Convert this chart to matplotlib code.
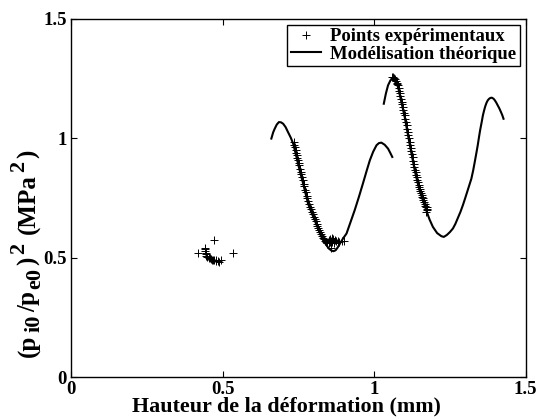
import numpy as np
import matplotlib
matplotlib.use('agg')
import matplotlib.pyplot as plt
from matplotlib.transforms import IdentityTransform

plt.rcParams['font.family'] = 'Liberation Serif'
plt.rcParams['font.weight'] = 'bold'

# experimental points (first group, low height)
exp1_x = [0.420, 0.472, 0.535, 0.442, 0.443, 0.445, 0.447, 0.450, 0.455, 0.458,
          0.462, 0.466, 0.469, 0.473, 0.477, 0.480, 0.484, 0.489, 0.494, 0.443, 0.446]
exp1_y = [0.518, 0.574, 0.520, 0.536, 0.527, 0.515, 0.508, 0.503, 0.500, 0.497,
          0.494, 0.492, 0.491, 0.490, 0.489, 0.488, 0.486, 0.480, 0.491, 0.540, 0.520]

# experimental points along first modelled arch
exp2_x = [0.735, 0.737, 0.739, 0.741, 0.743, 0.745, 0.747, 0.749, 0.751, 0.753,
          0.756, 0.758, 0.760, 0.763, 0.765, 0.768, 0.770, 0.773, 0.775, 0.778,
          0.780, 0.783, 0.786, 0.789, 0.792, 0.795, 0.798, 0.801, 0.804, 0.807,
          0.810, 0.813, 0.816, 0.819, 0.822, 0.825, 0.828, 0.831, 0.834, 0.837,
          0.840, 0.843, 0.846, 0.850, 0.853, 0.857, 0.861,
          0.850, 0.855, 0.860, 0.865, 0.870, 0.875, 0.880, 0.885, 0.893, 0.902,
          0.858, 0.868, 0.862]
exp2_y = [0.985, 0.972, 0.962, 0.953, 0.940, 0.930, 0.918, 0.908, 0.897, 0.887,
          0.872, 0.861, 0.851, 0.836, 0.826, 0.810, 0.800, 0.785, 0.775, 0.760,
          0.750, 0.737, 0.724, 0.713, 0.702, 0.692, 0.682, 0.672, 0.663, 0.653,
          0.643, 0.634, 0.624, 0.615, 0.606, 0.598, 0.590, 0.583, 0.577, 0.571,
          0.566, 0.562, 0.560, 0.562, 0.567, 0.570, 0.572,
          0.575, 0.580, 0.582, 0.578, 0.574, 0.570, 0.568, 0.566, 0.568, 0.568,
          0.540, 0.560, 0.565]

# experimental points along second modelled arch
exp3_x = [1.058, 1.062, 1.066, 1.069, 1.072, 1.075, 1.077, 1.079, 1.081, 1.083,
          1.085, 1.087, 1.089, 1.091, 1.093, 1.095, 1.097, 1.099, 1.101, 1.103,
          1.105, 1.107, 1.109, 1.111, 1.113, 1.115, 1.117, 1.119, 1.121, 1.123,
          1.125, 1.127, 1.129, 1.131, 1.133, 1.135, 1.137, 1.139, 1.141, 1.143,
          1.145, 1.147, 1.149, 1.151, 1.153, 1.155, 1.157, 1.159, 1.161, 1.163,
          1.165, 1.167, 1.169, 1.171, 1.173, 1.175, 1.170, 1.174]
exp3_y = [1.255, 1.258, 1.254, 1.248, 1.240, 1.232, 1.226, 1.222, 1.212, 1.200,
          1.189, 1.177, 1.166, 1.154, 1.143, 1.131, 1.120, 1.108, 1.097, 1.083,
          1.069, 1.055, 1.041, 1.028, 1.014, 1.000, 0.986, 0.973, 0.960, 0.946,
          0.933, 0.920, 0.907, 0.894, 0.881, 0.869, 0.858, 0.848, 0.837, 0.827,
          0.816, 0.806, 0.795, 0.786, 0.779, 0.771, 0.764, 0.756, 0.749, 0.741,
          0.733, 0.726, 0.718, 0.711, 0.705, 0.698, 0.692, 0.712]

# theoretical model, first arch
mod1_x = [0.661, 0.667, 0.672, 0.679, 0.686, 0.693, 0.700, 0.708, 0.716, 0.725,
          0.733, 0.741, 0.749, 0.757, 0.766, 0.774, 0.782, 0.793, 0.804, 0.815,
          0.826, 0.835, 0.843, 0.851, 0.859, 0.866, 0.873, 0.880, 0.890, 0.899,
          0.909, 0.922, 0.936, 0.950, 0.963, 0.975, 0.986, 0.997, 1.008, 1.016,
          1.024, 1.035, 1.046, 1.053, 1.060]
mod1_y = [0.999, 1.025, 1.040, 1.058, 1.068, 1.067, 1.061, 1.047, 1.026, 1.003,
          0.978, 0.937, 0.894, 0.853, 0.810, 0.768, 0.727, 0.690, 0.657, 0.621,
          0.587, 0.567, 0.552, 0.538, 0.530, 0.527, 0.531, 0.543, 0.565, 0.583,
          0.601, 0.648, 0.699, 0.755, 0.810, 0.862, 0.908, 0.944, 0.971, 0.980,
          0.982, 0.973, 0.957, 0.940, 0.922]

# theoretical model, second arch
mod2_x = [1.032, 1.039, 1.046, 1.054, 1.062, 1.070, 1.079, 1.090, 1.101, 1.109,
          1.117, 1.125, 1.134, 1.142, 1.150, 1.161, 1.172, 1.183, 1.194, 1.208,
          1.222, 1.230, 1.240, 1.250, 1.260, 1.268, 1.276, 1.285, 1.293, 1.300,
          1.307, 1.314, 1.321, 1.327, 1.332, 1.337, 1.342, 1.346, 1.350, 1.355,
          1.359, 1.363, 1.367, 1.371, 1.375, 1.379, 1.382, 1.386, 1.389, 1.394,
          1.398, 1.403, 1.408, 1.413, 1.418, 1.423, 1.427]
mod2_y = [1.145, 1.188, 1.222, 1.243, 1.250, 1.238, 1.215, 1.152, 1.089, 1.033,
          0.978, 0.925, 0.866, 0.822, 0.782, 0.740, 0.699, 0.660, 0.629, 0.603,
          0.590, 0.587, 0.595, 0.607, 0.622, 0.641, 0.665, 0.692, 0.720, 0.747,
          0.775, 0.803, 0.831, 0.866, 0.900, 0.935, 0.971, 1.004, 1.035, 1.068,
          1.096, 1.117, 1.135, 1.149, 1.159, 1.165, 1.168, 1.170, 1.170, 1.166,
          1.160, 1.150, 1.138, 1.126, 1.112, 1.097, 1.082]

ticks = [0, 0.5, 1, 1.5]
tick_labels = ['0', '0.5', '1', '1.5']

# y label pieces: text, level (0 normal, -1 subscript, 1 superscript)
ylab_parts = [('(p', 0), ('i0', -1), ('/p', 0), ('e0', -1), (')', 0), ('2', 1),
              ('(MPa', 0), ('2', 1), (')', 0)]

fig = plt.figure(figsize=(5.38, 4.19), dpi=100)
ax = fig.add_axes([0.132, 0.1002, 0.845, 0.8545])

mk = dict(marker='+', linestyle='none', color='black', markersize=6, markeredgewidth=0.7)
pts, = ax.plot(exp1_x, exp1_y, **mk)
ax.plot(exp2_x, exp2_y, **mk)
ax.plot(exp3_x, exp3_y, **mk)
line, = ax.plot(mod1_x, mod1_y, color='black', linewidth=1.5)
ax.plot(mod2_x, mod2_y, color='black', linewidth=1.5)

ax.set_xlim(0, 1.5)
ax.set_ylim(0, 1.5)
ax.set_xticks(ticks)
ax.set_xticklabels(tick_labels)
ax.set_yticks(ticks)
ax.set_yticklabels(tick_labels)
ax.tick_params(direction='in', top=True, right=True, length=4, width=0.8,
               labelsize=13.5)
ax.tick_params(axis='x', pad=3)
ax.tick_params(axis='y', pad=3)
for s in ax.spines.values():
    s.set_linewidth(1.0)

ax.set_xlabel('Hauteur de la déformation (mm)', fontsize=15.8, fontweight='bold')
ax.xaxis.label.set_va('baseline')
ax.xaxis.set_label_coords(0.474, -0.097)

leg = ax.legend([pts, line], ['Points expérimentaux', 'Modélisation théorique'],
                loc='upper right', fontsize=13.5, fancybox=False, framealpha=1,
                edgecolor='black', borderaxespad=0.3, handlelength=1.6,
                handletextpad=0.5, borderpad=0.2, labelspacing=0.0)
leg.get_frame().set_linewidth(1.0)

# y label built piece by piece so that sub/superscripts stay large
fig.canvas.draw()
rend = fig.canvas.get_renderer()
x_base = 35
y_pos = 62
for i, (txt, lvl) in enumerate(ylab_parts):
    size = 18 if lvl == 0 else 16
    dx = {0: 0, -1: 5, 1: -11}[lvl]
    t = fig.text(x_base + dx, y_pos, txt, transform=IdentityTransform(),
                 rotation=90, rotation_mode='anchor', ha='left', va='baseline',
                 fontsize=size, fontweight='bold')
    bb = t.get_window_extent(rend)
    y_pos = bb.y1 + (9 if i == 5 else 2.5)

plt.savefig('out.png', dpi=100)
plt.close('all')
